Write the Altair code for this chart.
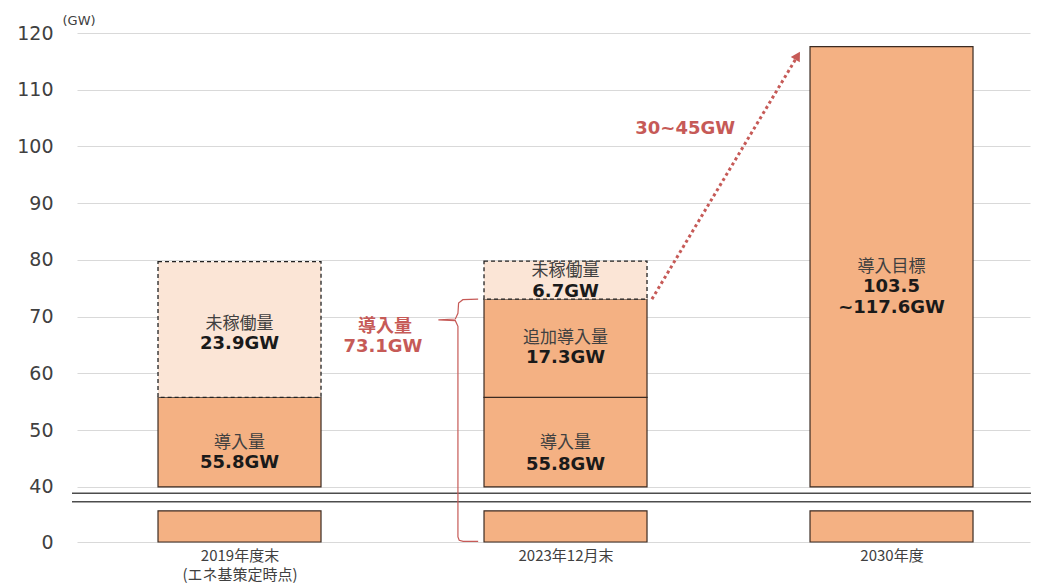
import altair as alt
import pandas as pd

# ---------------- data ----------------
CATEGORIES = ["2019年度末\n(エネ基策定時点)", "2023年12月末", "2030年度"]
SEG_CAT = [0, 0, 1, 1, 1, 2]
SEG_NAME = ["導入量", "未稼働量", "導入量", "追加導入量", "未稼働量", "導入目標"]
SEG_VALUE = [55.8, 23.9, 55.8, 17.3, 6.7, 117.6]
SEG_STATUS = ["installed", "idle", "installed", "installed", "idle", "installed"]
SEG_LABEL = ["55.8GW", "23.9GW", "55.8GW", "17.3GW", "6.7GW", "103.5\n~117.6GW"]
Y_TICKS = [0, 40, 50, 60, 70, 80, 90, 100, 110, 120]
INSTALLED_2023 = 73.1
INSTALLED_2023_TEXT = ["導入量", "73.1GW"]
GROWTH_TEXT = "30~45GW"
TARGET_TOP = 117.6

# ---------------- layout ----------------
W, H = 953, 509
X_DOMAIN = [-0.4985, 2.4248]
Y_ZERO_POS = 30.3       # where "0" sits on the broken axis
Y_TOP = 120
BREAK_TOP = 40
STUB_TOP = 35.8
BREAK_LINES = [37.4, 38.9]
BAR_HALF = 0.25
NAME_Y = [47.75, 68.7, 47.75, 66.3, 78.1, 78.8]
VALUE_Y = [44.2, 65.2, 43.9, 62.7, 74.4, 75.2]
RED_TEXT_POS = [(0.446, 68.2), (0.44, 64.75)]

ORANGE = "#F4B183"
LIGHT = "#FBE5D6"
EDGE = "#3b2b22"
RED = "#C65A57"
GRID = "#d9d9d9"
TXT = "#404040"
CJK = "Noto Sans CJK JP"
LAT = "DejaVu Sans"

rows = []
cum = {}
for c, n, v, s, lab, ny, vy in zip(SEG_CAT, SEG_NAME, SEG_VALUE, SEG_STATUS, SEG_LABEL, NAME_Y, VALUE_Y):
    start = cum.get(c, 0.0)
    end = round(start + v, 1)
    cum[c] = end
    rows.append(dict(xc=c, x0=c - BAR_HALF, x1=c + BAR_HALF, start=start, end=end,
                     y0=BREAK_TOP if start == 0 else start, y1=end, status=s,
                     name=n, label=lab, name_y=ny, value_y=vy))
seg = pd.DataFrame(rows)
stub = seg[seg["start"] == 0].copy()
stub["y0"] = Y_ZERO_POS
stub["y1"] = STUB_TOP

y_vals = [Y_ZERO_POS if v == 0 else v for v in Y_TICKS]
cat_expr = "[" + ",".join("'" + c.replace("\n", "|") + "'" for c in CATEGORIES) + "]"

XSCALE = alt.Scale(domain=X_DOMAIN, nice=False, zero=False)
YSCALE = alt.Scale(domain=[Y_ZERO_POS, Y_TOP], nice=False, zero=False)
XAXIS = alt.Axis(values=[0, 1, 2], labelExpr=f"split({cat_expr}[datum.value], '|')",
                 grid=False, domain=False, ticks=False, labelFont=CJK, labelFontSize=15,
                 labelColor=TXT, labelPadding=6, labelLineHeight=19, labelFlush=False,
                 title=None)
YAXIS = alt.Axis(values=y_vals, labelExpr=f"datum.value < {BREAK_TOP - 2} ? '0' : datum.label",
                 grid=True, gridColor=GRID, gridWidth=1, domain=False, ticks=False,
                 labelFont=LAT, labelFontSize=19, labelColor=TXT, labelPadding=24,
                 title="(GW)", titleAngle=0, titleX=-15, titleY=-13, titleAlign="left",
                 titleBaseline="middle", titleFont=LAT, titleFontSize=13,
                 titleFontWeight="normal", titleColor=TXT)


def X(f):
    return alt.X(f, type="quantitative", scale=XSCALE, axis=XAXIS)


def Y(f):
    return alt.Y(f, type="quantitative", scale=YSCALE, axis=YAXIS)


solid = seg[seg["status"] == "installed"]
idle = seg[seg["status"] == "idle"]

stub_l = alt.Chart(stub).mark_rect(fill=ORANGE, stroke=EDGE, strokeWidth=1.2).encode(
    x=X("x0"), x2="x1", y=Y("y0"), y2="y1")
solid_l = alt.Chart(solid).mark_rect(fill=ORANGE, stroke=EDGE, strokeWidth=1.2).encode(
    x=X("x0"), x2="x1", y=Y("y0"), y2="y1")
idle_l = alt.Chart(idle).mark_rect(fill=LIGHT, stroke="#222222", strokeWidth=1.3,
                                   strokeDash=[4, 3]).encode(
    x=X("x0"), x2="x1", y=Y("y0"), y2="y1")

brk = pd.DataFrame({"y": BREAK_LINES})
brk_l = alt.Chart(brk).mark_rule(color="#4d4d4d", strokeWidth=1.6).encode(
    y=Y("y"), x=alt.value(-5), x2=alt.value(W + 1))

name_l = alt.Chart(seg).mark_text(font=CJK, fontSize=17, color=TXT, baseline="middle").encode(
    x=X("xc"), y=Y("name_y"), text="name:N")
val_l = alt.Chart(seg).mark_text(font=LAT, fontSize=18, fontWeight="bold", color="#1a1a1a",
                                 baseline="middle", lineBreak="\n", lineHeight=21).encode(
    x=X("xc"), y=Y("value_y"), text="label:N")

# bracket for 2023 installed total
bl = 1 - BAR_HALF
bx = bl - 0.08
tip_y = 69.45
br_pts = [(bl - 0.018, INSTALLED_2023), (bx + 0.015, INSTALLED_2023 - 0.1), (bx + 0.002, INSTALLED_2023 - 0.7),
          (bx, 70.6), (bx - 0.008, tip_y + 0.15), (bx - 0.06, tip_y), (bx - 0.008, tip_y - 0.15),
          (bx, 68.3), (bx, Y_ZERO_POS + 0.9), (bx + 0.004, Y_ZERO_POS + 0.3),
          (bx + 0.016, Y_ZERO_POS + 0.1), (bl - 0.018, Y_ZERO_POS + 0.1)]
br = pd.DataFrame({"x": [p[0] for p in br_pts], "y": [p[1] for p in br_pts], "o": list(range(len(br_pts)))})
br_l = alt.Chart(br).mark_line(color=RED, strokeWidth=1.2).encode(
    x=X("x"), y=Y("y"), order="o:Q")

red_txt = pd.DataFrame({"x": [p[0] for p in RED_TEXT_POS], "y": [p[1] for p in RED_TEXT_POS],
                        "t": INSTALLED_2023_TEXT})
red_l = alt.Chart(red_txt).mark_text(font=f"{LAT}, {CJK}", fontSize=18, fontWeight="bold",
                                     color=RED, baseline="middle").encode(
    x=X("x"), y=Y("y"), text="t:N")

# growth arrow
ar = pd.DataFrame({"x": [1 + BAR_HALF + 0.015, 1.705], "y": [INSTALLED_2023, TARGET_TOP - 2.3], "o": [0, 1]})
ar_l = alt.Chart(ar).mark_line(color=RED, strokeWidth=3, strokeDash=[3, 3]).encode(
    x=X("x"), y=Y("y"), order="o:Q")
head = pd.DataFrame({"x": [1.712], "y": [TARGET_TOP - 1.6]})
head_l = alt.Chart(head).mark_point(shape="triangle-up", filled=True, angle=31, size=110,
                                    color=RED, opacity=1).encode(x=X("x"), y=Y("y"))
gt = pd.DataFrame({"x": [1.367], "y": [103.1], "t": [GROWTH_TEXT]})
gt_l = alt.Chart(gt).mark_text(font=LAT, fontSize=18, fontWeight="bold", color=RED,
                               baseline="middle").encode(x=X("x"), y=Y("y"), text="t:N")

chart = alt.layer(stub_l, solid_l, idle_l, brk_l, name_l, val_l, br_l, red_l, ar_l, head_l, gt_l).properties(
    width=W, height=H,
    autosize=alt.AutoSizeParams(type="none"),
    padding={"left": 77, "top": 33, "right": 15, "bottom": 44},
).configure_view(strokeWidth=0)

chart.save("out.html", embed_options={"renderer": "svg", "actions": False})
